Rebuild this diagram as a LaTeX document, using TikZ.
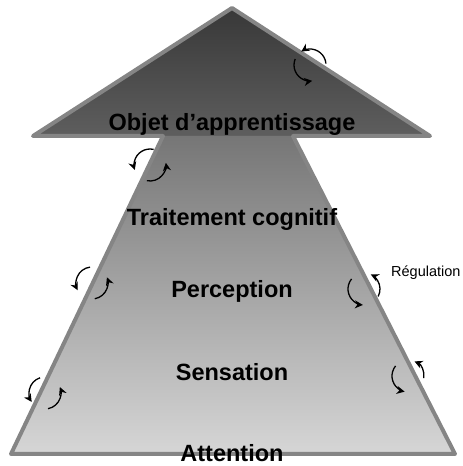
\documentclass[tikz,border=0pt]{standalone}
\usepackage{fontspec}
\setmainfont{Liberation Sans}
\usetikzlibrary{arrows.meta}
\definecolor{headtop}{HTML}{383838}
\definecolor{headbot}{HTML}{5E5E5E}
\definecolor{shafttop}{HTML}{767676}
\definecolor{shaftmid}{HTML}{B4B4B4}
\definecolor{shaftbot}{HTML}{D6D6D6}
\definecolor{rim}{HTML}{858585}
\newcommand\regcycle[7]{%
  \draw[regarrow] (#1,#2) ++(#4:#3) arc[start angle=#4, end angle=#5, radius=#3];
  \draw[regarrow] (#1,#2) ++(#6:#3) arc[start angle=#6, end angle=#7, radius=#3];
}
\begin{document}
\begin{tikzpicture}[x=1pt,y=1pt,
  level/.style={font=\fontsize{23.5}{28}\selectfont\bfseries, inner sep=0pt, anchor=base},
  note/.style={font=\fontsize{14.5}{17}\selectfont, inner sep=0pt, anchor=base west},
  regarrow/.style={line width=1.3pt, -{Stealth[length=8pt,width=8pt]}}]
\useasboundingbox (0,0) rectangle (463,466);
% coordinates
\coordinate (apex) at (232,458);
\coordinate (hr) at (430,330);
\coordinate (nr) at (293,330);
\coordinate (br) at (455,12);
\coordinate (bl) at (11,12);
\coordinate (nl) at (163,330);
\coordinate (hl) at (33,330);
% fills
\shade[top color=headtop, bottom color=headbot] (apex) -- (hr) -- (hl) -- cycle;
\shade[top color=shafttop, middle color=shaftmid, bottom color=shaftbot] (nl) -- (nr) -- (br) -- (bl) -- cycle;
% outline
\draw[rim, line width=4pt, line join=round] (apex) -- (hr) -- (nr) -- (br) -- (bl) -- (nl) -- (hl) -- cycle;
% labels
\node[level] (objet) at (232,335) {Objet d’apprentissage};
\node[level] (trait) at (232,240) {Traitement cognitif};
\node[level] (perc) at (232,168) {Perception};
\node[level] (sens) at (232,85) {Sensation};
\node[level] (att) at (232,5) {Attention};
\node[note] (reg) at (391,189) {Régulation};
% regulation cycles
\regcycle{310}{401}{16}{5}{123}{158}{278}
\regcycle{150}{301}{16}{77}{198}{259}{368}
\regcycle{92}{183}{16}{97}{207}{280}{381}
\regcycle{364}{177}{16}{141}{266}{332}{425}
\regcycle{45}{73}{16}{108}{214}{281}{382}
\regcycle{408}{90}{16}{141}{258}{352}{426}
\end{tikzpicture}
\end{document}
